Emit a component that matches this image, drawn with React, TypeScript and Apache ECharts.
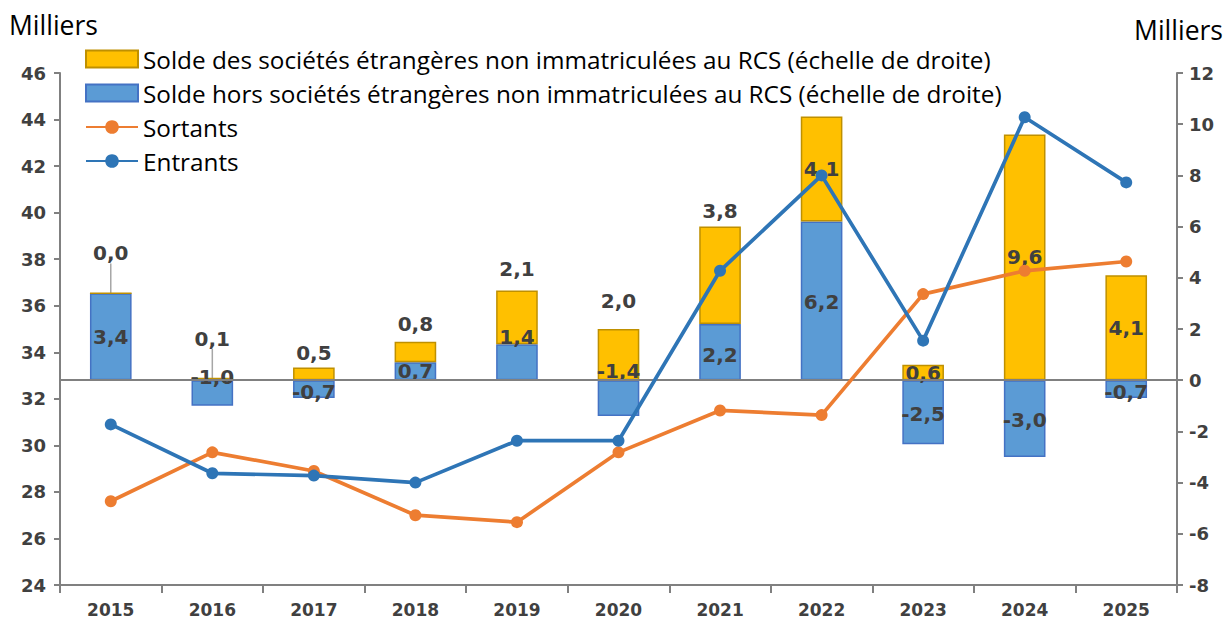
import React, { useEffect, useRef } from "react";
import * as echarts from "echarts";

const years = ["2015", "2016", "2017", "2018", "2019", "2020", "2021", "2022", "2023", "2024", "2025"];
const soldeEtrangeres = [0.0, 0.1, 0.5, 0.8, 2.1, 2.0, 3.8, 4.1, 0.6, 9.6, 4.1];
const soldeHors = [3.4, -1.0, -0.7, 0.7, 1.4, -1.4, 2.2, 6.2, -2.5, -3.0, -0.7];
const sortants = [27.6, 29.7, 28.9, 27.0, 26.7, 29.7, 31.5, 31.3, 36.5, 37.5, 37.9];
const entrants = [30.9, 28.8, 28.7, 28.4, 30.2, 30.2, 37.5, 41.6, 34.5, 44.1, 41.3];

const nameEtr = "Solde des sociétés étrangères non immatriculées au RCS (échelle de droite)";
const nameHors = "Solde hors sociétés étrangères non immatriculées au RCS (échelle de droite)";

// label placement styles (not data)
const etrLabelPos = ["top", "top", "top", "top", "top", "top", "top", "inside", "inside", "inside", "inside"];
const etrLabelDist = [5, 5, 4, 8, 12, 18, 6, 0, 0, 0, 0];
const etrLabelOffsetY = [0, 0, 0, 0, 0, 0, 0, -4, 4, 3, -15];
const etrLabelLift = [-24, -24, 0, 0, 0, 0, 0, 0, 0, 0, 0];
const horsLabelOffsetY = [0, -16, 3, 0, -25, -27, 3, 1, 2, 1, 3];

const LEG_FONT = "'Open Sans', sans-serif";
const NUM_FONT = "'DejaVu Sans', sans-serif";
const TXT = "#404040";
const fmt = (v: number) => v.toFixed(1).replace(".", ",");

export default function App() {
  const ref = useRef<HTMLDivElement>(null);
  useEffect(() => {
    if (!ref.current) return;
    const chart = echarts.init(ref.current, null, { renderer: "svg" });
    const labelBase = { show: true, color: TXT, fontWeight: "bold", fontSize: 20, fontFamily: NUM_FONT };
    chart.setOption({
      animation: false,
      backgroundColor: "#ffffff",
      textStyle: { fontFamily: LEG_FONT },
      grid: { left: 60, right: 50, top: 73, bottom: 41, containLabel: false },
      legend: {
        orient: "vertical",
        left: 80,
        top: 42,
        itemWidth: 52,
        itemHeight: 17,
        itemGap: 10,
        textStyle: { fontSize: 24.3, color: "#000", fontFamily: LEG_FONT },
        data: [
          { name: nameEtr, icon: "rect" },
          { name: nameHors, icon: "rect" },
          { name: "Sortants" },
          { name: "Entrants" },
        ],
      },
      graphic: [
        { type: "text", left: 9, top: 11, style: { text: "Milliers", fontSize: 26.5, fill: "#000", fontFamily: LEG_FONT } },
        { type: "text", right: 4, top: 16, style: { text: "Milliers", fontSize: 26.5, fill: "#000", fontFamily: LEG_FONT } },
      ],
      xAxis: {
        type: "category",
        data: years,
        axisLine: { onZero: false, lineStyle: { color: "#808080", width: 2 } },
        axisTick: { show: true, length: 8, lineStyle: { color: "#808080", width: 2 } },
        axisLabel: { color: TXT, fontWeight: "bold", fontSize: 17, margin: 16, fontFamily: NUM_FONT },
      },
      yAxis: [
        {
          type: "value",
          min: 24,
          max: 46,
          interval: 2,
          splitLine: { show: false },
          axisLine: { show: true, lineStyle: { color: "#808080", width: 2 } },
          axisTick: { show: true, length: 6, lineStyle: { color: "#808080", width: 2 } },
          axisLabel: { color: TXT, fontWeight: "bold", fontSize: 18, margin: 14, fontFamily: NUM_FONT },
        },
        {
          type: "value",
          min: -8,
          max: 12,
          interval: 2,
          position: "right",
          splitLine: { show: false },
          axisLine: { show: true, lineStyle: { color: "#808080", width: 2 } },
          axisTick: { show: true, length: 6, lineStyle: { color: "#808080", width: 2 } },
          axisLabel: { color: TXT, fontWeight: "bold", fontSize: 18, margin: 12, fontFamily: NUM_FONT },
        },
      ],
      series: [
        {
          name: nameHors,
          type: "bar",
          yAxisIndex: 1,
          stack: "solde",
          barWidth: "41%",
          itemStyle: { color: "#5B9BD5", borderColor: "#4472C4", borderWidth: 1.5 },
          data: soldeHors.map((v, i) => ({
            value: v,
            label: { ...labelBase, position: "inside", offset: [0, horsLabelOffsetY[i]], formatter: () => fmt(v) },
          })),
          markLine: {
            silent: true,
            symbol: "none",
            label: { show: false },
            lineStyle: { color: "#808080", width: 2, type: "solid" },
            data: [{ yAxis: 0 }],
          },
          z: 2,
        },
        {
          name: nameEtr,
          type: "bar",
          yAxisIndex: 1,
          stack: "solde",
          barWidth: "41%",
          itemStyle: { color: "#FFC000", borderColor: "#BF9000", borderWidth: 1.5 },
          labelLine: { show: false, lineStyle: { color: "#A6A6A6", width: 1.5 } },
          labelLayout: (params: any) => (etrLabelLift[params.dataIndex] ? { dy: etrLabelLift[params.dataIndex] } : {}),
          data: soldeEtrangeres.map((v, i) => ({
            value: v,
            labelLine: { show: etrLabelLift[i] !== 0, lineStyle: { color: "#A6A6A6", width: 1.5 } },
            label: {
              ...labelBase,
              position: etrLabelPos[i],
              distance: etrLabelDist[i],
              offset: [0, etrLabelOffsetY[i]],
              formatter: () => fmt(v),
            },
          })),
          z: 2,
        },
        {
          name: "Sortants",
          type: "line",
          yAxisIndex: 0,
          data: sortants,
          symbol: "circle",
          symbolSize: 12,
          lineStyle: { color: "#ED7D31", width: 3.7 },
          itemStyle: { color: "#ED7D31" },
          z: 5,
        },
        {
          name: "Entrants",
          type: "line",
          yAxisIndex: 0,
          data: entrants,
          symbol: "circle",
          symbolSize: 12,
          lineStyle: { color: "#2E75B6", width: 3.7 },
          itemStyle: { color: "#2E75B6" },
          z: 5,
        },
      ],
    });
    return () => chart.dispose();
  }, []);
  return <div ref={ref} style={{ width: 1227, height: 626, position: "absolute", left: 0, top: 0 }} />;
}
